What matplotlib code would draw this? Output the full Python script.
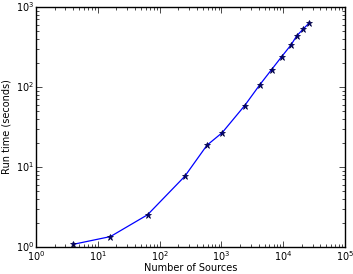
import matplotlib
matplotlib.use("Agg")
import matplotlib.pyplot as plt

# number of sources vs run time
sources = [4, 16, 64, 256, 585, 1030, 2380, 4170, 6510, 9460, 13400, 16700, 21200, 26400]
run_time = [1.08, 1.35, 2.53, 7.65, 18.7, 26.8, 58.4, 106, 165, 239, 335, 438, 531, 631]

plt.style.use('classic')
plt.rcParams['font.size'] = 7

fig = plt.figure(figsize=(3.53, 2.74), dpi=100)
ax = fig.add_axes([0.102, 0.0985, 0.875, 0.876])
ax.plot(sources, run_time, 'b-', marker='*', markersize=4.5,
        markerfacecolor='#000080', markeredgecolor='#000040', markeredgewidth=0.5, linewidth=0.9)
ax.set_xscale('log')
ax.set_yscale('log')
ax.set_xlim(1, 1e5)
ax.set_ylim(1, 1e3)
ax.set_xlabel("Number of Sources", fontsize=7, labelpad=0)
ax.set_ylabel("Run time (seconds)", fontsize=7, labelpad=3)
ax.tick_params(labelsize=7, pad=1.5)

plt.savefig("out.png", dpi=100)
